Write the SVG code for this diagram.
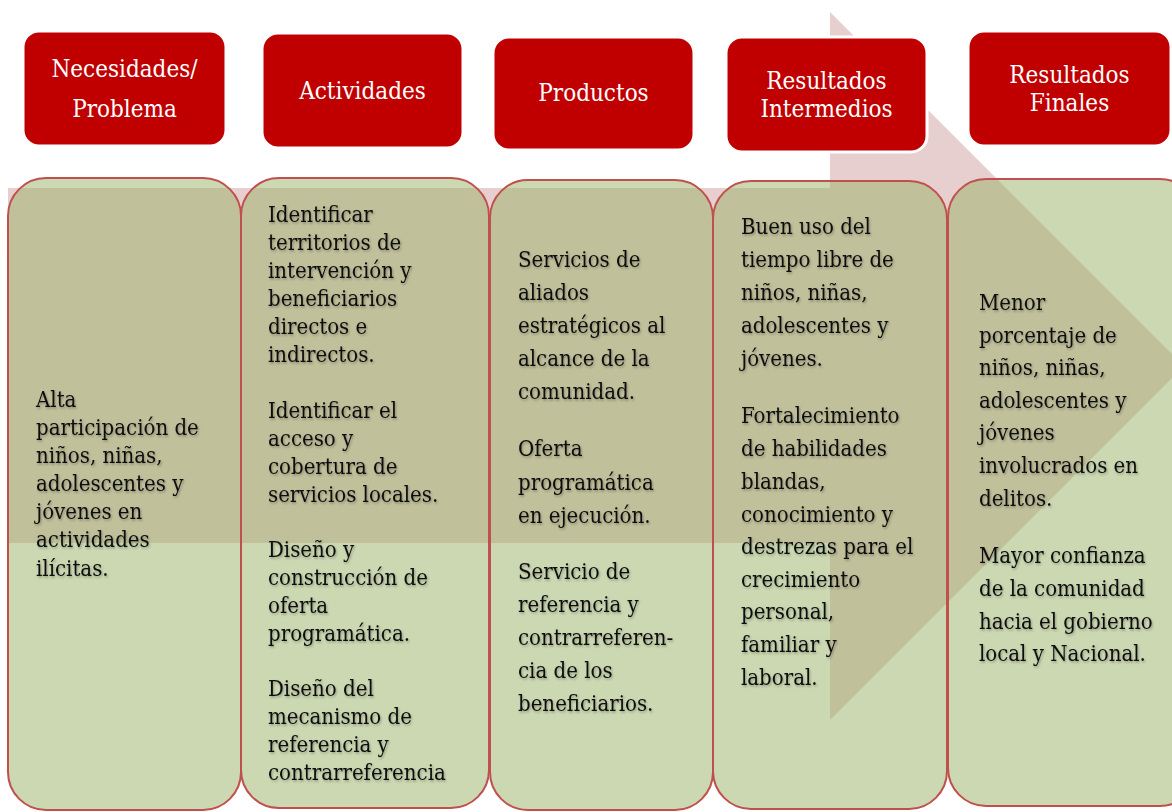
<svg xmlns="http://www.w3.org/2000/svg" width="1172" height="812" viewBox="0 0 1172 812">
  <defs>
    <filter id="tshadow" x="-5%" y="-5%" width="110%" height="110%">
      <feDropShadow dx="1" dy="1.5" stdDeviation="1" flood-color="#000" flood-opacity="0.3"/>
    </filter>
  </defs>
  <style>
    .hdr { fill: #c00000; stroke: #ffffff; stroke-width: 3; }
    .htxt { font-family: "DejaVu Serif Condensed", "DejaVu Serif", serif; font-stretch: condensed; font-size: 24px; fill: #ffffff; text-anchor: middle; }
    .col { fill: #99b165; fill-opacity: 0.5; stroke: #c0504d; stroke-width: 2; }
    .btxt { font-family: "DejaVu Serif Condensed", "DejaVu Serif", serif; font-stretch: condensed; font-size: 22px; fill: #111111; filter: url(#tshadow); }
  </style>
  <rect width="1172" height="812" fill="#ffffff"/>

  <!-- background process arrow -->
  <g id="arrow">
    <polygon points="8,188 830,188 830,12 1184,366 830,720 830,543 8,543" fill="#e7cfd0"/>
  </g>

  <g id="connectors"></g>

  <!-- columns -->
  <g id="col1">
    <rect class="col" x="8" y="178" width="233" height="632" rx="38" ry="38"/>
    <text class="btxt">
      <tspan x="36" y="407">Alta</tspan>
      <tspan x="36" y="435">participación de</tspan>
      <tspan x="36" y="463">niños, niñas,</tspan>
      <tspan x="36" y="491">adolescentes y</tspan>
      <tspan x="36" y="519">jóvenes en</tspan>
      <tspan x="36" y="547">actividades</tspan>
      <tspan x="36" y="576">ilícitas.</tspan>
    </text>
  </g>
  <g id="col2">
    <rect class="col" x="241" y="178" width="248" height="630" rx="38" ry="38"/>
    <text class="btxt">
      <tspan x="268" y="222">Identificar</tspan>
      <tspan x="268" y="250">territorios de</tspan>
      <tspan x="268" y="278">intervención y</tspan>
      <tspan x="268" y="306">beneficiarios</tspan>
      <tspan x="268" y="334">directos e</tspan>
      <tspan x="268" y="362">indirectos.</tspan>
      <tspan x="268" y="418">Identificar el</tspan>
      <tspan x="268" y="446">acceso y</tspan>
      <tspan x="268" y="474">cobertura de</tspan>
      <tspan x="268" y="502">servicios locales.</tspan>
      <tspan x="268" y="557">Diseño y</tspan>
      <tspan x="268" y="585">construcción  de</tspan>
      <tspan x="268" y="613">oferta</tspan>
      <tspan x="268" y="641">programática.</tspan>
      <tspan x="268" y="696">Diseño del</tspan>
      <tspan x="268" y="724">mecanismo de</tspan>
      <tspan x="268" y="752">referencia y</tspan>
      <tspan x="268" y="780">contrarreferencia</tspan>
    </text>
  </g>
  <g id="col3">
    <rect class="col" x="490" y="180" width="223" height="630" rx="38" ry="38"/>
    <text class="btxt">
      <tspan x="518" y="267">Servicios de</tspan>
      <tspan x="518" y="300">aliados</tspan>
      <tspan x="518" y="333">estratégicos al</tspan>
      <tspan x="518" y="366">alcance de la</tspan>
      <tspan x="518" y="399">comunidad.</tspan>
      <tspan x="518" y="456">Oferta</tspan>
      <tspan x="518" y="490">programática</tspan>
      <tspan x="518" y="523">en ejecución.</tspan>
      <tspan x="518" y="579">Servicio de</tspan>
      <tspan x="518" y="612">referencia y</tspan>
      <tspan x="518" y="645">contrarreferen-</tspan>
      <tspan x="518" y="678">cia de los</tspan>
      <tspan x="518" y="711">beneficiarios.</tspan>
    </text>
  </g>
  <g id="col4">
    <rect class="col" x="713" y="181" width="234" height="628" rx="38" ry="38"/>
    <text class="btxt">
      <tspan x="741" y="234">Buen uso del</tspan>
      <tspan x="741" y="267">tiempo libre de</tspan>
      <tspan x="741" y="300">niños, niñas,</tspan>
      <tspan x="741" y="333">adolescentes y</tspan>
      <tspan x="741" y="366">jóvenes.</tspan>
      <tspan x="741" y="423">Fortalecimiento</tspan>
      <tspan x="741" y="456">de habilidades</tspan>
      <tspan x="741" y="489">blandas,</tspan>
      <tspan x="741" y="522">conocimiento y</tspan>
      <tspan x="741" y="554">destrezas para el</tspan>
      <tspan x="741" y="587">crecimiento</tspan>
      <tspan x="741" y="619">personal,</tspan>
      <tspan x="741" y="652">familiar y</tspan>
      <tspan x="741" y="685">laboral.</tspan>
    </text>
  </g>
  <g id="col5">
    <rect class="col" x="948" y="179" width="250" height="627" rx="38" ry="38"/>
    <text class="btxt">
      <tspan x="979" y="310">Menor</tspan>
      <tspan x="979" y="343">porcentaje de</tspan>
      <tspan x="979" y="375">niños, niñas,</tspan>
      <tspan x="979" y="408">adolescentes y</tspan>
      <tspan x="979" y="440">jóvenes</tspan>
      <tspan x="979" y="473">involucrados en</tspan>
      <tspan x="979" y="506">delitos.</tspan>
      <tspan x="979" y="563">Mayor confianza</tspan>
      <tspan x="979" y="596">de la comunidad</tspan>
      <tspan x="979" y="629">hacia el gobierno</tspan>
      <tspan x="979" y="661">local y Nacional.</tspan>
    </text>
  </g>

  <!-- headers -->
  <g id="hdr1">
    <rect class="hdr" x="23" y="31" width="203" height="115" rx="16" ry="16"/>
    <text class="htxt"><tspan x="124.5" y="77">Necesidades/</tspan><tspan x="124.5" y="117">Problema</tspan></text>
  </g>
  <g id="hdr2">
    <rect class="hdr" x="262" y="33" width="201" height="115" rx="16" ry="16"/>
    <text class="htxt" x="362.5" y="99">Actividades</text>
  </g>
  <g id="hdr3">
    <rect class="hdr" x="493" y="37" width="201" height="113" rx="16" ry="16"/>
    <text class="htxt" x="593.5" y="101">Productos</text>
  </g>
  <g id="hdr4">
    <rect class="hdr" x="726" y="37" width="201" height="115" rx="16" ry="16"/>
    <text class="htxt"><tspan x="826.5" y="89">Resultados</tspan><tspan x="826.5" y="117">Intermedios</tspan></text>
  </g>
  <g id="hdr5">
    <rect class="hdr" x="968" y="31" width="203" height="115" rx="16" ry="16"/>
    <text class="htxt"><tspan x="1069.5" y="83">Resultados</tspan><tspan x="1069.5" y="111">Finales</tspan></text>
  </g>
</svg>
